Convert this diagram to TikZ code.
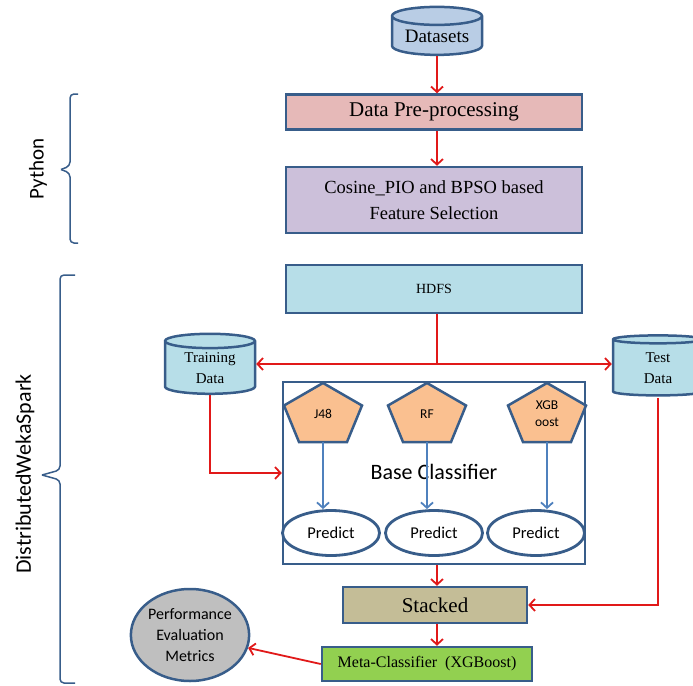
\documentclass[tikz,border=0pt]{standalone}
\usepackage{fontspec}
\setmainfont{Liberation Serif}
\newfontfamily\calfont{Carlito}
\usetikzlibrary{shapes.geometric,arrows.meta}
\definecolor{bblue}{HTML}{385D8A}
\definecolor{ablue}{HTML}{4F81BD}
\definecolor{rred}{RGB}{225,25,25}
\definecolor{fpink}{HTML}{E6B9B8}
\definecolor{flav}{HTML}{CCC0DA}
\definecolor{fcyan}{HTML}{B7DEE8}
\definecolor{fsteel}{HTML}{B9CDE5}
\definecolor{ftan}{HTML}{C4BD97}
\definecolor{fgreen}{HTML}{92D050}
\definecolor{fgray}{HTML}{BFBFBF}
\definecolor{fpeach}{HTML}{FAC090}
\tikzset{
  box/.style={draw=bblue, line width=2.5pt, align=center, inner sep=0pt},
  cyl/.style={cylinder, shape border rotate=90, aspect=0.28, draw=bblue, line width=2.5pt,
     cylinder uses custom fill, align=center, inner sep=0pt},
  rarr/.style={draw=rred, line width=1.8pt, -{Straight Barb[length=5.5pt,width=12pt]}},
  rline/.style={draw=rred, line width=1.8pt},
  barr/.style={draw=ablue, line width=1.8pt, -{Straight Barb[length=5.5pt,width=12pt]}},
  bracestyle/.style={draw=bblue, line width=1.5pt, rounded corners=4pt},
  pentstyle/.style={draw=bblue, line width=2.5pt, fill=fpeach},
}
\begin{document}
\begin{tikzpicture}[x=1pt,y=-1pt]
\useasboundingbox (0,0) rectangle (693,685);

% Datasets
\node[cyl, cylinder body fill=fsteel, cylinder end fill=fsteel, minimum width=90, minimum height=48,
      font=\fontsize{19}{21}\selectfont] (datasets) at (437,36) {Datasets};

\node[box, fill=fpink, minimum width=296, minimum height=35, font=\fontsize{21}{23}\selectfont]
   (pre) at (434,112) {Data Pre-processing};
\node[box, fill=flav, minimum width=296, minimum height=66, font=\fontsize{18.5}{26}\selectfont]
   (cos) at (434,200) {Cosine\_PIO and BPSO based\\Feature Selection};
\node[box, fill=fcyan, minimum width=296, minimum height=48, font=\fontsize{14}{16}\selectfont]
   (hdfs) at (434,289) {HDFS};

\node[cyl, cylinder body fill=fcyan, cylinder end fill=fcyan, minimum width=90, minimum height=60,
      font=\fontsize{15}{21}\selectfont] (train) at (210,368) {Training\\Data};
\node[cyl, cylinder body fill=fcyan, cylinder end fill=fcyan, minimum width=90, minimum height=60,
      font=\fontsize{15}{21}\selectfont] (test) at (658,368) {Test\\Data};

% Base classifier box
\node[box, fill=white, minimum width=302, minimum height=182] (base) at (434,473) {};
\node[font=\calfont\fontsize{22}{24}\selectfont] (baselbl) at (434,472) {Base Classifier};

% pentagons
\foreach \n/\cx/\t in {j48/323/J48, rf/427/RF, xgb/547/XGB\\oost}{
  \path[pentstyle] (\cx,383) -- (\cx+39,405.5) -- (\cx+24,442) -- (\cx-24,442) -- (\cx-39,405.5) -- cycle;
  \node[align=center, font=\calfont\fontsize{13.5}{17}\selectfont] (\n) at (\cx,414) {\t};
  \coordinate (\n b) at (\cx,442);
}

% predict ellipses
\foreach \n/\cx in {p1/331, p2/434, p3/536}{
  \node[ellipse, draw=bblue, line width=2.8pt, fill=white, minimum width=97, minimum height=45, inner sep=0pt,
        font=\calfont\fontsize{16.5}{18}\selectfont] (\n) at (\cx,533) {Predict};
}
\draw[barr] (j48b) -- (j48b |- p1.north);
\draw[barr] (rfb) -- (rfb |- p2.north);
\draw[barr] (xgbb) -- (xgbb |- p3.north);

\node[box, fill=ftan, minimum width=184, minimum height=36, font=\fontsize{21}{23}\selectfont]
   (stacked) at (435,605) {Stacked};
\node[box, fill=fgreen, minimum width=210, minimum height=34, font=\fontsize{16}{18}\selectfont]
   (meta) at (427,664) {Meta-Classifier\ \ (XGBoost)};
\node[ellipse, draw=bblue, line width=2.5pt, fill=fgray, minimum width=116, minimum height=92, inner sep=0pt,
      align=center, font=\calfont\fontsize{16}{21}\selectfont] (perf) at (190,635) {Performance\\Evaluation\\Metrics};

% red connectors
\draw[rarr] (datasets.south -| 437,0) -- (pre.north -| 437,0);
\draw[rarr] (pre.south -| 437,0) -- (cos.north -| 437,0);
\coordinate (split) at (437,364);
\draw[rline] (hdfs.south -| 437,0) -- (split);
\draw[rarr] (split) -- (train.east |- split);
\draw[rarr] (split) -- (test.west |- split);
\draw[rarr] (train.south) |- (base.west);
\draw[rarr] (base.south -| 437,0) -- (stacked.north -| 437,0);
\coordinate (teb) at (658,398);
\draw[rarr] (teb) |- (stacked.east);
\draw[rarr] (stacked.south -| 437,0) -- (meta.north -| 437,0);
\draw[rarr] (meta.west) -- (perf);

% braces
\draw[bracestyle] (78,94) -- (70,94) -- (70,166) -- (61,169.5);
\draw[bracestyle] (61,169.5) -- (70,173) -- (70,243) -- (78,243);
\node[rotate=90, font=\calfont\fontsize{21}{23}\selectfont] (py) at (38,169) {Python};

\draw[bracestyle] (75,275) -- (60,275) -- (60,470) -- (42,475);
\draw[bracestyle] (42,475) -- (60,480) -- (60,683) -- (75,683);
\node[rotate=90, font=\calfont\fontsize{22}{24}\selectfont] (dws) at (25,474) {DistributedWekaSpark};
\end{tikzpicture}
\end{document}
